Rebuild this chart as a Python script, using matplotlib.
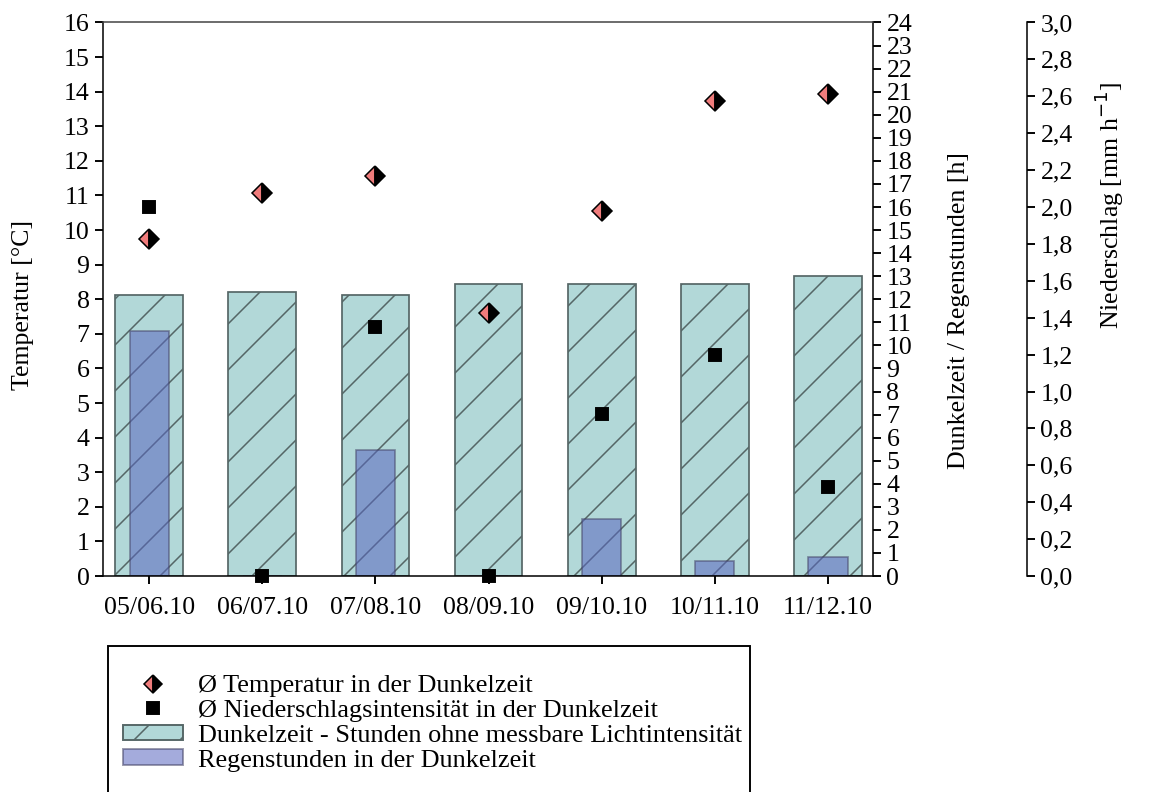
import matplotlib
matplotlib.use("Agg")
import matplotlib.pyplot as plt
from matplotlib.ticker import FuncFormatter, MultipleLocator
from matplotlib.patches import Patch, Rectangle
from matplotlib.lines import Line2D

plt.rcParams['font.family'] = ['Liberation Serif', 'DejaVu Serif']
plt.rcParams['font.size'] = 13.5
plt.rcParams['hatch.linewidth'] = 0.8
plt.rcParams['hatch.color'] = '#4f6464'

periods = ["05/06.10", "06/07.10", "07/08.10", "08/09.10", "09/10.10", "10/11.10", "11/12.10"]
temp_dark = [9.75, 11.07, 11.57, 7.6, 10.55, 13.73, 13.93]
precip_intensity = [2.0, 0.0, 1.35, 0.0, 0.88, 1.2, 0.48]
dark_hours = [12.18, 12.3, 12.18, 12.66, 12.66, 12.66, 13.0]
rain_hours = [10.64, 0.0, 5.46, 0.0, 2.47, 0.65, 0.82]

DPI = 138
W, H = 1149, 792
fig = plt.figure(figsize=(W / DPI, H / DPI), dpi=DPI)
ax_t = fig.add_axes([0.0896, 0.2727, 0.6702, 0.6989])
ax_h = ax_t.twinx()
ax_p = ax_t.twinx()

x = list(range(len(periods)))

# bars (hours axis) drawn below the markers
ax_h.set_zorder(1)
ax_t.set_zorder(2)
ax_p.set_zorder(3)
ax_t.patch.set_visible(False)
ax_p.patch.set_visible(False)

ax_h.bar(x, dark_hours, width=0.6, color='#b2d8d8', edgecolor='#556666',
         linewidth=0.9, hatch='/')
ax_h.bar(x, rain_hours, width=0.35, color='#5a66c0', alpha=0.55,
         edgecolor='#444466', linewidth=0.9)

ax_t.plot(x, temp_dark, linestyle='none', marker='D', markersize=7.3,
          fillstyle='left', markerfacecolor='#f07c7c', markerfacecoloralt='black',
          markeredgecolor='black', markeredgewidth=0.8, clip_on=False)
ax_p.plot(x, precip_intensity, linestyle='none', marker='s', markersize=6.6,
          color='black', clip_on=False)

ax_t.set_xlim(-0.41, 6.4)
ax_t.set_ylim(0, 16)
ax_h.set_ylim(0, 24)
ax_p.set_ylim(0, 3.0)

ax_t.set_xticks(x)
ax_t.set_xticklabels(periods)
ax_t.yaxis.set_major_locator(MultipleLocator(1))
ax_h.yaxis.set_major_locator(MultipleLocator(1))
ax_p.yaxis.set_major_locator(MultipleLocator(0.2))
ax_p.yaxis.set_major_formatter(FuncFormatter(lambda v, p: f"{v:.1f}".replace('.', ',')))

for a in (ax_t, ax_h, ax_p):
    a.tick_params(direction='out', length=4, width=1, pad=3, labelsize=13.5)
ax_t.tick_params(axis='x', pad=7)

ax_p.spines['right'].set_position(('axes', 1.2))
for s in ('left', 'top', 'bottom'):
    ax_p.spines[s].set_visible(False)
ax_h.spines['left'].set_visible(False)
ax_h.spines['top'].set_visible(False)
ax_h.spines['bottom'].set_visible(False)
ax_t.spines['right'].set_visible(False)
ax_t.spines['top'].set_color('#444444')

ax_t.set_ylabel("Temperatur [°C]")
ax_t.yaxis.set_label_coords(-0.09, 0.49)
ax_h.set_ylabel("Dunkelzeit / Regenstunden [h]")
ax_h.yaxis.set_label_coords(1.098, 0.48)
ax_p.set_ylabel("Niederschlag [mm h$^{-1}$]")
ax_p.yaxis.set_label_coords(1.285, 0.67)

handles = [
    Line2D([], [], linestyle='none', marker='D', markersize=7, fillstyle='left',
           markerfacecolor='#f07c7c', markerfacecoloralt='black',
           markeredgecolor='black', markeredgewidth=0.8),
    Line2D([], [], linestyle='none', marker='s', markersize=6.5, color='black'),
    Patch(facecolor='#b2d8d8', edgecolor='#556666', hatch='/'),
    Patch(facecolor='#5a66c0', alpha=0.55, edgecolor='#444466'),
]
labels = [
    "Ø Temperatur in der Dunkelzeit",
    "Ø Niederschlagsintensität in der Dunkelzeit",
    "Dunkelzeit - Stunden ohne messbare Lichtintensität",
    "Regenstunden in der Dunkelzeit",
]
leg = fig.legend(handles, labels, loc='upper left', bbox_to_anchor=(108 / W, 1 - 660 / H),
                 fontsize=13.7, frameon=False, handleheight=0.55,
                 handlelength=2.3, handletextpad=0.57, labelspacing=0.1,
                 borderpad=0.57, borderaxespad=0, numpoints=1)

# legend box, open at the bottom edge of the picture
fig.patches.append(Rectangle((108 / W, -0.02), (750 - 108) / W, (0.02 + 1 - 646 / H),
                             transform=fig.transFigure, fill=False,
                             edgecolor='black', linewidth=1.0))

fig.savefig("out.png", dpi=DPI)
